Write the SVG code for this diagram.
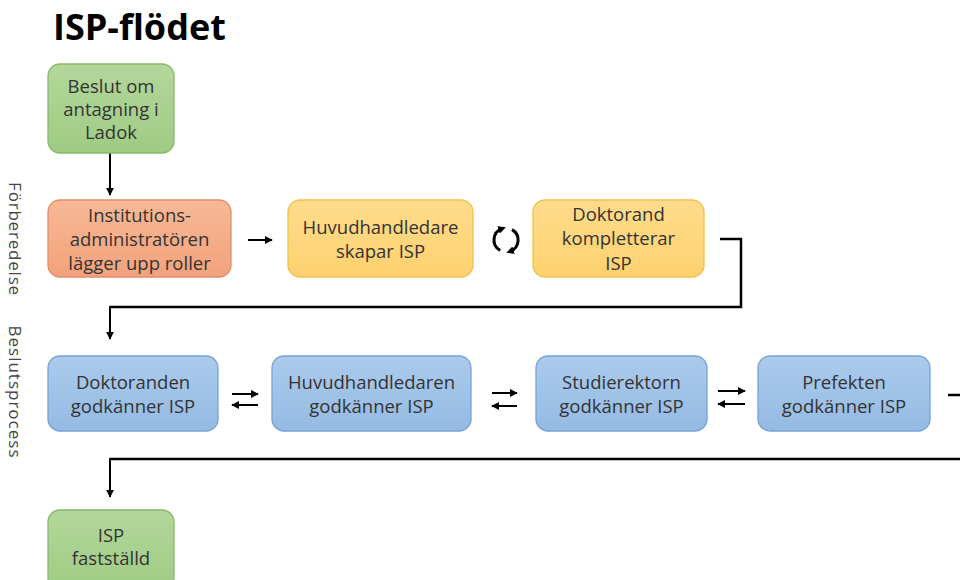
<svg xmlns="http://www.w3.org/2000/svg" width="960" height="580" viewBox="0 0 960 580">
<defs>
<linearGradient id="gGreen" x1="0" y1="0" x2="0" y2="1"><stop offset="0" stop-color="#b3d79b"/><stop offset="1" stop-color="#9fcb83"/></linearGradient>
<linearGradient id="gOrange" x1="0" y1="0" x2="0" y2="1"><stop offset="0" stop-color="#f7b996"/><stop offset="1" stop-color="#f2a27c"/></linearGradient>
<linearGradient id="gYellow" x1="0" y1="0" x2="0" y2="1"><stop offset="0" stop-color="#ffdc8c"/><stop offset="1" stop-color="#fdd16e"/></linearGradient>
<linearGradient id="gBlue" x1="0" y1="0" x2="0" y2="1"><stop offset="0" stop-color="#abcbec"/><stop offset="1" stop-color="#95bae3"/></linearGradient>
<marker id="ah" viewBox="0 0 10 10" refX="9" refY="5" markerWidth="4" markerHeight="4" markerUnits="strokeWidth" orient="auto"><path d="M0,0 L10,5 L0,10 z" fill="#000"/></marker>
<marker id="ahc" viewBox="0 0 10 10" refX="5" refY="5" markerWidth="2.6" markerHeight="2.6" markerUnits="strokeWidth" orient="auto"><path d="M0,0 L10,5 L0,10 z" fill="#000"/></marker>
</defs>
<style>
.box{stroke-width:1.3}
.green{fill:url(#gGreen);stroke:#86b968}
.orange{fill:url(#gOrange);stroke:#e28f68}
.yellow{fill:url(#gYellow);stroke:#f2c04f}
.blue{fill:url(#gBlue);stroke:#76a3d6}
.t{font-family:"Open Sans","Liberation Sans",sans-serif;font-size:18.5px;fill:#333;text-anchor:middle}
.side{font-family:"Open Sans","Liberation Sans",sans-serif;font-size:17px;fill:#444;text-anchor:middle}
.arr{stroke:#000;stroke-width:2;fill:none;marker-end:url(#ah)}
.conn{stroke:#000;stroke-width:2.5;fill:none}
</style>
<rect width="960" height="580" fill="#fff"/>
<text x="53" y="40" font-family="'Open Sans','Liberation Sans',sans-serif" font-weight="bold" font-size="36" fill="#000">ISP-flödet</text>
<text class="side" transform="translate(9,239) rotate(90)" letter-spacing="0.8">Förberedelse</text>
<text class="side" transform="translate(9,392) rotate(90)" letter-spacing="1">Beslutsprocess</text>

<g id="connectors">
<path class="arr" d="M110,153 V195"/>
<path class="arr" d="M248,240 H272"/>
<path d="M500.2,250.5 A12 12 0 0 1 502.2,228.6" stroke="#000" stroke-width="3" fill="none" marker-end="url(#ahc)"/>
<path d="M512,229.6 A12 12 0 0 1 510,251.4" stroke="#000" stroke-width="3" fill="none" marker-end="url(#ahc)"/>
<path class="conn" d="M720,239 H741 V307 H110"/>
<path class="arr" d="M110,306 V339"/>
<path class="arr" d="M232,394 H258"/>
<path class="arr" d="M258,405 H232"/>
<path class="arr" d="M492,393 H517"/>
<path class="arr" d="M517,406 H492"/>
<path class="arr" d="M718,391 H745"/>
<path class="arr" d="M745,404 H718"/>
<path class="conn" d="M948,395 H960"/>
<path class="conn" d="M960,459 H110"/>
<path class="arr" d="M110,458 V497"/>
</g>

<g id="n1"><rect class="box green" x="48" y="64" width="126" height="89" rx="12"/>
<text class="t" x="111" y="93">Beslut om</text><text class="t" x="111" y="116">antagning i</text><text class="t" x="111" y="139">Ladok</text></g>

<g id="n2"><rect class="box orange" x="48" y="200" width="183" height="77" rx="12"/>
<text class="t" x="139.5" y="222">Institutions-</text><text class="t" x="139.5" y="246">administratören</text><text class="t" x="139.5" y="270">lägger upp roller</text></g>

<g id="n3"><rect class="box yellow" x="288" y="200" width="185" height="77" rx="12"/>
<text class="t" x="380.5" y="234">Huvudhandledare</text><text class="t" x="380.5" y="258">skapar ISP</text></g>

<g id="n4"><rect class="box yellow" x="533" y="200" width="171" height="77" rx="12"/>
<text class="t" x="618.5" y="221">Doktorand</text><text class="t" x="618.5" y="245">kompletterar</text><text class="t" x="618.5" y="270">ISP</text></g>

<g id="n5"><rect class="box blue" x="48" y="356" width="170" height="75" rx="12"/>
<text class="t" x="133" y="389">Doktoranden</text><text class="t" x="133" y="413">godkänner ISP</text></g>

<g id="n6"><rect class="box blue" x="272" y="356" width="199" height="75" rx="12"/>
<text class="t" x="371.5" y="389">Huvudhandledaren</text><text class="t" x="371.5" y="413">godkänner ISP</text></g>

<g id="n7"><rect class="box blue" x="536" y="356" width="171" height="75" rx="12"/>
<text class="t" x="621.5" y="389">Studierektorn</text><text class="t" x="621.5" y="413">godkänner ISP</text></g>

<g id="n8"><rect class="box blue" x="758" y="356" width="172" height="75" rx="12"/>
<text class="t" x="844" y="389">Prefekten</text><text class="t" x="844" y="413">godkänner ISP</text></g>

<g id="n9"><rect class="box green" x="48" y="510" width="126" height="80" rx="12"/>
<text class="t" x="111" y="542">ISP</text><text class="t" x="111" y="565">fastställd</text></g>
</svg>
